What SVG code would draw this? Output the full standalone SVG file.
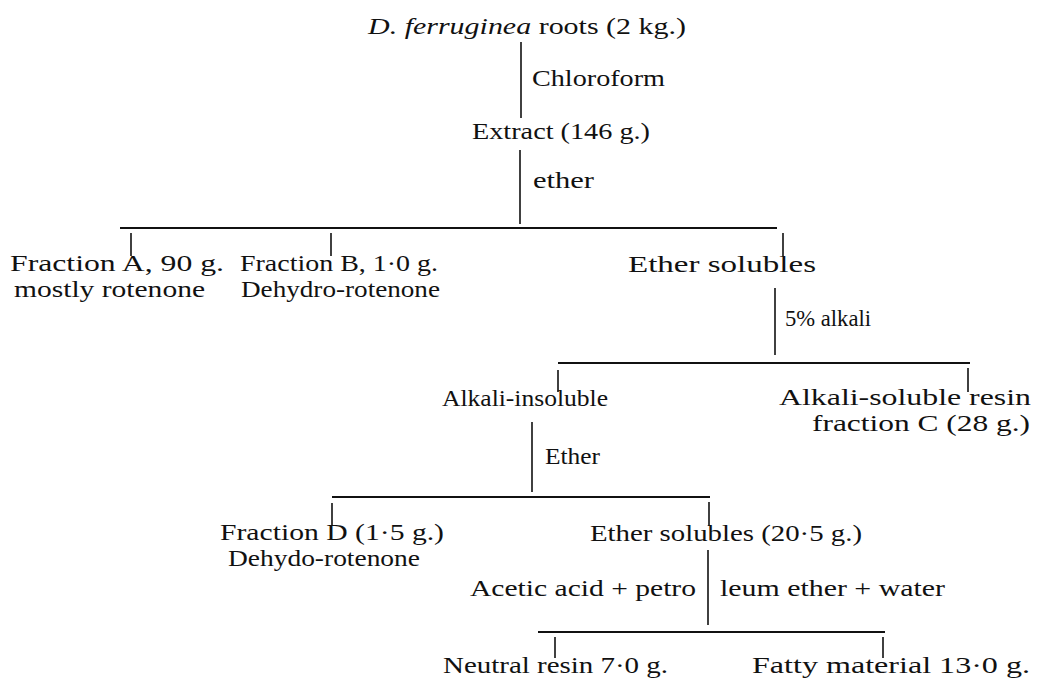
<svg xmlns="http://www.w3.org/2000/svg" width="1044" height="686" viewBox="0 0 1044 686">
<style>
text{font-family:"Liberation Serif","Times New Roman",serif;font-size:24px;fill:#111}
.it{font-style:italic}
line{stroke:#111;stroke-width:1.6;stroke-linecap:butt}
.h{stroke-width:2}
</style>
<rect width="1044" height="686" fill="#fff"/>
<g id="connectors">
<line x1="521" y1="42" x2="521" y2="118"/>
<line x1="520" y1="150" x2="520" y2="224"/>
<line class="h" x1="120" y1="228" x2="777" y2="228"/>
<line x1="131" y1="233" x2="131" y2="256"/>
<line x1="331" y1="233" x2="331" y2="256"/>
<line x1="783" y1="233" x2="783" y2="256"/>
<line x1="775" y1="288" x2="775" y2="355"/>
<line class="h" x1="558" y1="363" x2="970" y2="363"/>
<line x1="558" y1="370" x2="558" y2="392"/>
<line x1="968" y1="368" x2="968" y2="392"/>
<line x1="532" y1="422" x2="532" y2="492"/>
<line class="h" x1="332" y1="497" x2="710" y2="497"/>
<line x1="332" y1="503" x2="332" y2="526"/>
<line x1="709" y1="502" x2="709" y2="526"/>
<line x1="708" y1="550" x2="708" y2="625"/>
<line class="h" x1="538" y1="632" x2="885" y2="632"/>
<line x1="555" y1="637" x2="555" y2="658"/>
<line x1="883" y1="637" x2="883" y2="658"/>
</g>
<g id="labels">
<text x="532" y="86" textLength="133" lengthAdjust="spacingAndGlyphs">Chloroform</text>
<text x="533" y="188" textLength="61" lengthAdjust="spacingAndGlyphs">ether</text>
<text x="785" y="326" textLength="86" lengthAdjust="spacingAndGlyphs">5% alkali</text>
<text x="545" y="464" textLength="55" lengthAdjust="spacingAndGlyphs">Ether</text>
<text x="470" y="596" textLength="226" lengthAdjust="spacingAndGlyphs">Acetic acid + petro</text>
<text x="720" y="596" textLength="225" lengthAdjust="spacingAndGlyphs">leum ether + water</text>
</g>
<g id="n-roots"><text x="368" y="34" textLength="318" lengthAdjust="spacingAndGlyphs"><tspan class="it">D. ferruginea</tspan>  roots (2 kg.)</text></g>
<g id="n-extract"><text x="472" y="139" textLength="178" lengthAdjust="spacingAndGlyphs">Extract (146 g.)</text></g>
<g id="n-fracA">
<text x="10" y="271" textLength="214" lengthAdjust="spacingAndGlyphs">Fraction A, 90 g.</text>
<text x="14" y="297" textLength="191" lengthAdjust="spacingAndGlyphs">mostly rotenone</text>
</g>
<g id="n-fracB">
<text x="240" y="271" textLength="198" lengthAdjust="spacingAndGlyphs">Fraction B, 1·0 g.</text>
<text x="241" y="297" textLength="199" lengthAdjust="spacingAndGlyphs">Dehydro-rotenone</text>
</g>
<g id="n-ethersol"><text x="628" y="272" textLength="188" lengthAdjust="spacingAndGlyphs">Ether solubles</text></g>
<g id="n-alkinsol"><text x="442" y="406" textLength="166" lengthAdjust="spacingAndGlyphs">Alkali-insoluble</text></g>
<g id="n-alksol">
<text x="779" y="405" textLength="252" lengthAdjust="spacingAndGlyphs">Alkali-soluble resin</text>
<text x="812" y="431" textLength="218" lengthAdjust="spacingAndGlyphs">fraction C (28 g.)</text>
</g>
<g id="n-fracD">
<text x="220" y="540" textLength="224" lengthAdjust="spacingAndGlyphs">Fraction D (1·5 g.)</text>
<text x="228" y="566" textLength="192" lengthAdjust="spacingAndGlyphs">Dehydo-rotenone</text>
</g>
<g id="n-ethersol2"><text x="590" y="541" textLength="272" lengthAdjust="spacingAndGlyphs">Ether solubles (20·5 g.)</text></g>
<g id="n-neutral"><text x="443" y="673" textLength="225" lengthAdjust="spacingAndGlyphs">Neutral resin 7·0 g.</text></g>
<g id="n-fatty"><text x="752" y="673" textLength="278" lengthAdjust="spacingAndGlyphs">Fatty material 13·0 g.</text></g>
</svg>
